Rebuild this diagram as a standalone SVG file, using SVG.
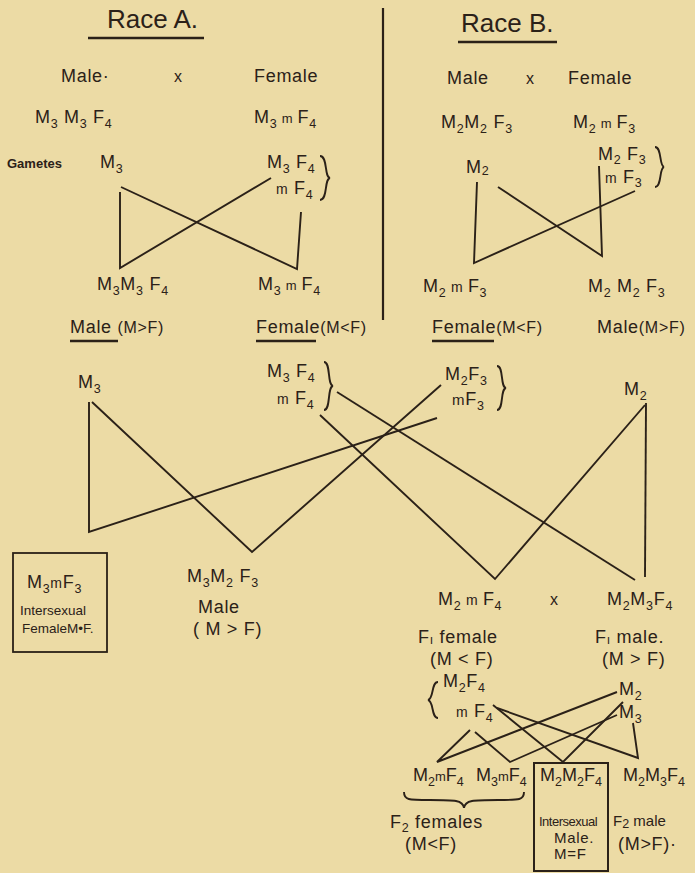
<svg xmlns="http://www.w3.org/2000/svg" width="695" height="873" viewBox="0 0 695 873">
<style>
.t{font-family:"Liberation Sans",Arial,sans-serif;font-size:18px;letter-spacing:0.7px;fill:#2b2118}
.h{font-size:26px;letter-spacing:0}
.b{font-size:13px;font-weight:bold;letter-spacing:0}
.sm{font-size:13.5px;letter-spacing:0}
.x{font-size:16px}
.s{font-size:12.5px}
.ln{stroke:#2b2118;stroke-width:1.9;fill:none;stroke-linejoin:miter}
.ul{stroke:#2b2118;stroke-width:2.4}
</style>
<rect width="695" height="873" fill="#ecdba5"/>

<g id="connectors" class="ln">
<polyline points="120,192 120,268 271,178"/>
<polyline points="121,187 297,269 301,212"/>
<polyline points="477,182 474,263 635,191"/>
<polyline points="498,187 602,256 599,166"/>
<polyline points="89,402 89,532 437,418"/>
<polyline points="92,402 252,552 441,385"/>
<line x1="337" y1="392" x2="635" y2="580"/>
<polyline points="320,415 495,579 645,405"/>
<line x1="646" y1="403" x2="645" y2="577"/>
<polyline points="470,730 437,762 617,692"/>
<polyline points="475,732 510,762 617,715"/>
<polyline points="493,705 563,762 623,702"/>
<polyline points="497,708 638,758 633,723"/>
</g>

<g id="divider"><line x1="383" y1="8" x2="383" y2="320" class="ln" style="stroke-width:2.2"/></g>

<g id="raceA-title">
<text class="t h" x="107" y="28">Race A.</text>
<line class="ul" x1="88" y1="38" x2="204" y2="38"/>
</g>
<g id="raceA-parents">
<text class="t" x="61" y="82">Male·</text>
<text class="t x" x="174" y="82">x</text>
<text class="t" x="254" y="82">Female</text>
<text class="t" x="35" y="123">M<tspan class="s" dy="5">3</tspan><tspan dy="-5"> M</tspan><tspan class="s" dy="5">3</tspan><tspan dy="-5"> F</tspan><tspan class="s" dy="5">4</tspan></text>
<text class="t" x="254" y="123">M<tspan class="s" dy="5">3</tspan><tspan dy="-5" font-size="13"> m </tspan><tspan>F</tspan><tspan class="s" dy="5">4</tspan></text>
</g>
<g id="raceA-gametes">
<text class="t b" x="7" y="168">Gametes</text>
<text class="t" x="100" y="168">M<tspan class="s" dy="5">3</tspan></text>
<text class="t" x="267" y="168">M<tspan class="s" dy="5">3</tspan><tspan dy="-5"> F</tspan><tspan class="s" dy="5">4</tspan></text>
<text class="t" x="276" y="194"><tspan font-size="14">m</tspan> F<tspan class="s" dy="5">4</tspan></text>
<path class="ln" d="M320,156 C328,156 324,177 330,178 C324,179 328,200 320,200"/>
</g>
<g id="raceA-offspring">
<text class="t" x="97" y="290">M<tspan class="s" dy="5">3</tspan><tspan dy="-5">M</tspan><tspan class="s" dy="5">3</tspan><tspan dy="-5"> F</tspan><tspan class="s" dy="5">4</tspan></text>
<text class="t" x="258" y="290">M<tspan class="s" dy="5">3</tspan><tspan dy="-5" font-size="13"> m </tspan><tspan>F</tspan><tspan class="s" dy="5">4</tspan></text>
<text class="t" x="70" y="333">Male <tspan font-size="16">(M&gt;F)</tspan></text>
<line class="ul" x1="70" y1="341" x2="118" y2="341"/>
<text class="t" x="256" y="333">Female<tspan font-size="16">(M&lt;F)</tspan></text>
<line class="ul" x1="256" y1="341" x2="316" y2="341"/>
</g>

<g id="raceB-title">
<text class="t h" x="461" y="32">Race B.</text>
<line class="ul" x1="458" y1="42" x2="557" y2="42"/>
</g>
<g id="raceB-parents">
<text class="t" x="447" y="84">Male</text>
<text class="t x" x="526" y="84">x</text>
<text class="t" x="568" y="84">Female</text>
<text class="t" x="441" y="128">M<tspan class="s" dy="5">2</tspan><tspan dy="-5">M</tspan><tspan class="s" dy="5">2</tspan><tspan dy="-5"> F</tspan><tspan class="s" dy="5">3</tspan></text>
<text class="t" x="573" y="128">M<tspan class="s" dy="5">2</tspan><tspan dy="-5" font-size="13"> m </tspan><tspan>F</tspan><tspan class="s" dy="5">3</tspan></text>
</g>
<g id="raceB-gametes">
<text class="t" x="466" y="173">M<tspan class="s" dy="2">2</tspan></text>
<text class="t" x="598" y="160">M<tspan class="s" dy="4">2</tspan><tspan dy="-4"> F</tspan><tspan class="s" dy="4">3</tspan></text>
<text class="t" x="605" y="183"><tspan font-size="14">m</tspan> F<tspan class="s" dy="4">3</tspan></text>
<path class="ln" d="M655,147 C662,147 659,166 664,167 C659,168 662,187 655,187"/>
</g>
<g id="raceB-offspring">
<text class="t" x="423" y="292">M<tspan class="s" dy="5">2</tspan><tspan dy="-5" font-size="14"> m </tspan><tspan>F</tspan><tspan class="s" dy="5">3</tspan></text>
<text class="t" x="588" y="292">M<tspan class="s" dy="5">2</tspan><tspan dy="-5"> M</tspan><tspan class="s" dy="5">2</tspan><tspan dy="-5"> F</tspan><tspan class="s" dy="5">3</tspan></text>
<text class="t" x="432" y="333">Female<tspan font-size="16">(M&lt;F)</tspan></text>
<line class="ul" x1="432" y1="341" x2="494" y2="341"/>
<text class="t" x="597" y="333">Male<tspan font-size="16">(M&gt;F)</tspan></text>
</g>

<g id="cross-M3">
<text class="t" x="78" y="388">M<tspan class="s" dy="5">3</tspan></text>
</g>
<g id="cross-A-female-gametes">
<text class="t" x="267" y="377">M<tspan class="s" dy="5">3</tspan><tspan dy="-5"> F</tspan><tspan class="s" dy="5">4</tspan></text>
<text class="t" x="277" y="404"><tspan font-size="14">m</tspan> F<tspan class="s" dy="5">4</tspan></text>
<path class="ln" d="M324,362 C331,362 327,385 333,386 C327,387 331,410 324,410"/>
</g>
<g id="cross-B-female-gametes">
<text class="t" x="445" y="380">M<tspan class="s" dy="5">2</tspan><tspan dy="-5">F</tspan><tspan class="s" dy="5">3</tspan></text>
<text class="t" x="452" y="405"><tspan font-size="15">m</tspan>F<tspan class="s" dy="5">3</tspan></text>
<path class="ln" d="M497,366 C504,366 500,387 506,388 C500,389 504,410 497,410"/>
</g>
<g id="cross-M2">
<text class="t" x="624" y="395">M<tspan class="s" dy="5">2</tspan></text>
</g>
<g id="intersexual-female">
<rect x="13" y="553" width="94" height="99" fill="none" stroke="#2b2118" stroke-width="1.8"/>
<text class="t" x="27" y="588">M<tspan class="s" dy="5">3</tspan><tspan dy="-5" font-size="14">m</tspan><tspan>F</tspan><tspan class="s" dy="5">3</tspan></text>
<text class="t sm" x="20" y="615">Intersexual</text>
<text class="t sm" x="22" y="633">FemaleM•F.</text>
</g>
<g id="male-M3M2F3">
<text class="t" x="187" y="582">M<tspan class="s" dy="5">3</tspan><tspan dy="-5">M</tspan><tspan class="s" dy="5">2</tspan><tspan dy="-5">  F</tspan><tspan class="s" dy="5">3</tspan></text>
<text class="t" x="198" y="613">Male</text>
<text class="t" x="193" y="635">( M &gt; F)</text>
</g>
<g id="F1-female">
<text class="t" x="438" y="605">M<tspan class="s" dy="5">2</tspan><tspan dy="-5" font-size="14"> m </tspan><tspan>F</tspan><tspan class="s" dy="5">4</tspan></text>
<text class="t" x="418" y="643">F<tspan class="s" dy="1">ı</tspan><tspan dy="-1"> female</tspan></text>
<text class="t" x="430" y="665">(M &lt; F)</text>
</g>
<g id="cross-x"><text class="t x" x="550" y="605">x</text></g>
<g id="F1-male">
<text class="t" x="607" y="605">M<tspan class="s" dy="5">2</tspan><tspan dy="-5">M</tspan><tspan class="s" dy="5">3</tspan><tspan dy="-5">F</tspan><tspan class="s" dy="5">4</tspan></text>
<text class="t" x="595" y="643">F<tspan class="s" dy="1">ı</tspan><tspan dy="-1"> male.</tspan></text>
<text class="t" x="602" y="665">(M &gt; F)</text>
</g>
<g id="F1-female-gametes">
<path class="ln" d="M438,682 C431,682 434,699 428,700 C434,701 431,718 438,718"/>
<text class="t" x="443" y="687">M<tspan class="s" dy="5">2</tspan><tspan dy="-5">F</tspan><tspan class="s" dy="5">4</tspan></text>
<text class="t" x="456" y="717"><tspan font-size="14">m</tspan> F<tspan class="s" dy="5">4</tspan></text>
</g>
<g id="F1-male-gametes">
<text class="t" x="619" y="695">M<tspan class="s" dy="5">2</tspan></text>
<text class="t" x="619" y="718">M<tspan class="s" dy="5">3</tspan></text>
</g>
<g id="F2-females">
<text class="t" x="413" y="781" style="letter-spacing:0">M<tspan class="s" dy="5">2</tspan><tspan dy="-5" font-size="13">m</tspan><tspan>F</tspan><tspan class="s" dy="5">4</tspan></text>
<text class="t" x="476" y="781" style="letter-spacing:0">M<tspan class="s" dy="5">3</tspan><tspan dy="-5" font-size="13">m</tspan><tspan>F</tspan><tspan class="s" dy="5">4</tspan></text>
<path class="ln" d="M404,792 C404,800 408,800 430,800 C455,800 463,800 464,808 C465,800 473,800 498,800 C520,800 524,800 524,792"/>
<text class="t" x="390" y="828">F<tspan class="s" dy="4">2</tspan><tspan dy="-4"> females</tspan></text>
<text class="t" x="405" y="850">(M&lt;F)</text>
</g>
<g id="intersexual-male">
<rect x="534" y="763" width="74" height="108" fill="none" stroke="#2b2118" stroke-width="2"/>
<text class="t" x="540" y="781" style="letter-spacing:0">M<tspan class="s" dy="5">2</tspan><tspan dy="-5">M</tspan><tspan class="s" dy="5">2</tspan><tspan dy="-5">F</tspan><tspan class="s" dy="5">4</tspan></text>
<text class="t" x="539" y="826" style="font-size:13px;letter-spacing:-0.5px">Intersexual</text>
<text class="t" x="554" y="843" style="font-size:15px">Male.</text>
<text class="t" x="554" y="859" style="font-size:15px">M=F</text>
</g>
<g id="F2-male">
<text class="t" x="623" y="781" style="letter-spacing:0">M<tspan class="s" dy="5">2</tspan><tspan dy="-5">M</tspan><tspan class="s" dy="5">3</tspan><tspan dy="-5">F</tspan><tspan class="s" dy="5">4</tspan></text>
<text class="t" x="613" y="826" style="font-size:15px;letter-spacing:0">F<tspan class="s" dy="2">2</tspan><tspan dy="-2"> male</tspan></text>
<text class="t" x="618" y="850">(M&gt;F)·</text>
</g>
</svg>
